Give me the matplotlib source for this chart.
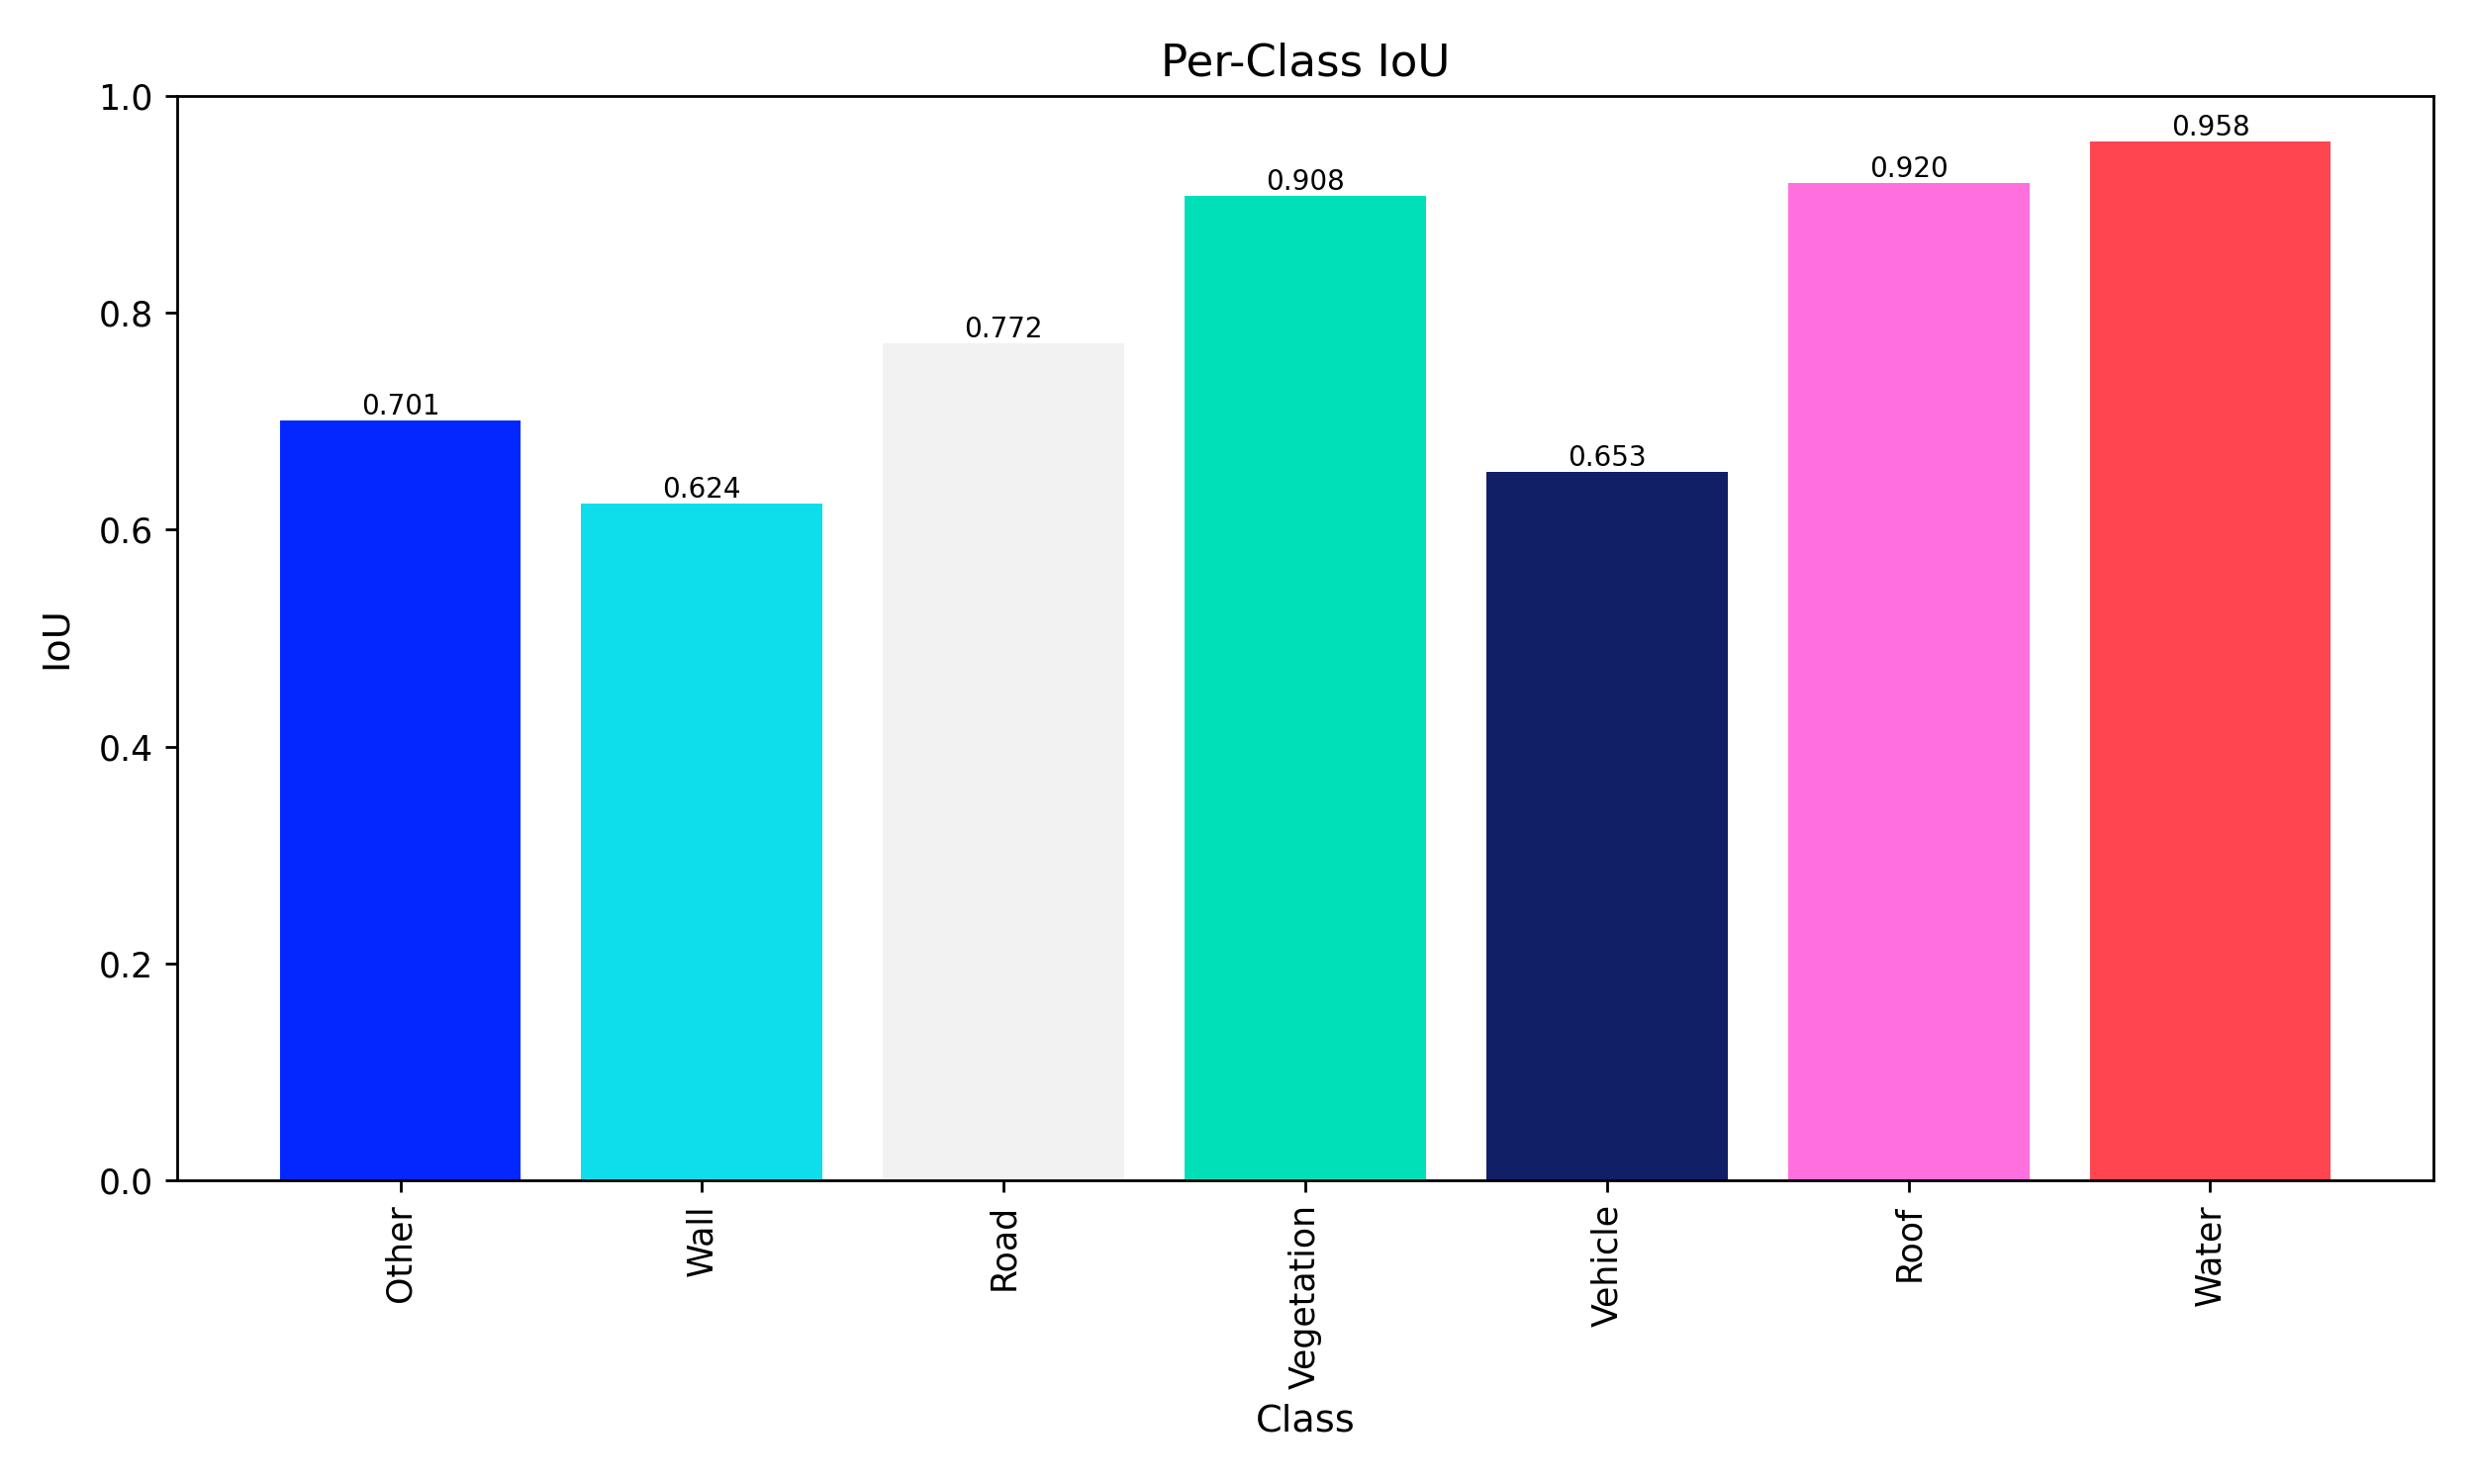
import matplotlib
matplotlib.use("Agg")
import matplotlib.pyplot as plt

classes = ["Other", "Wall", "Road", "Vegetation", "Vehicle", "Roof", "Water"]
iou = [0.701, 0.624, 0.772, 0.908, 0.653, 0.920, 0.958]
colors = ["#0527FF", "#0EDDEB", "#F2F2F2", "#00E0B8", "#111F66", "#FF70DE", "#FF4550"]

fig, ax = plt.subplots(figsize=(10, 6))
bars = ax.bar(classes, iou, color=colors)
for b, v in zip(bars, iou):
    ax.text(b.get_x() + b.get_width() / 2, v, f"{v:.3f}", ha="center", va="bottom", fontsize=8)
ax.set_ylim(0, 1.0)
ax.set_title("Per-Class IoU", fontsize=13)
ax.set_xlabel("Class", fontsize=11)
ax.set_ylabel("IoU", fontsize=11, labelpad=7)
plt.xticks(rotation=90)
plt.subplots_adjust(left=0.0716, right=0.9836, bottom=0.2047, top=0.9353)
plt.savefig("out.png", dpi=250)
